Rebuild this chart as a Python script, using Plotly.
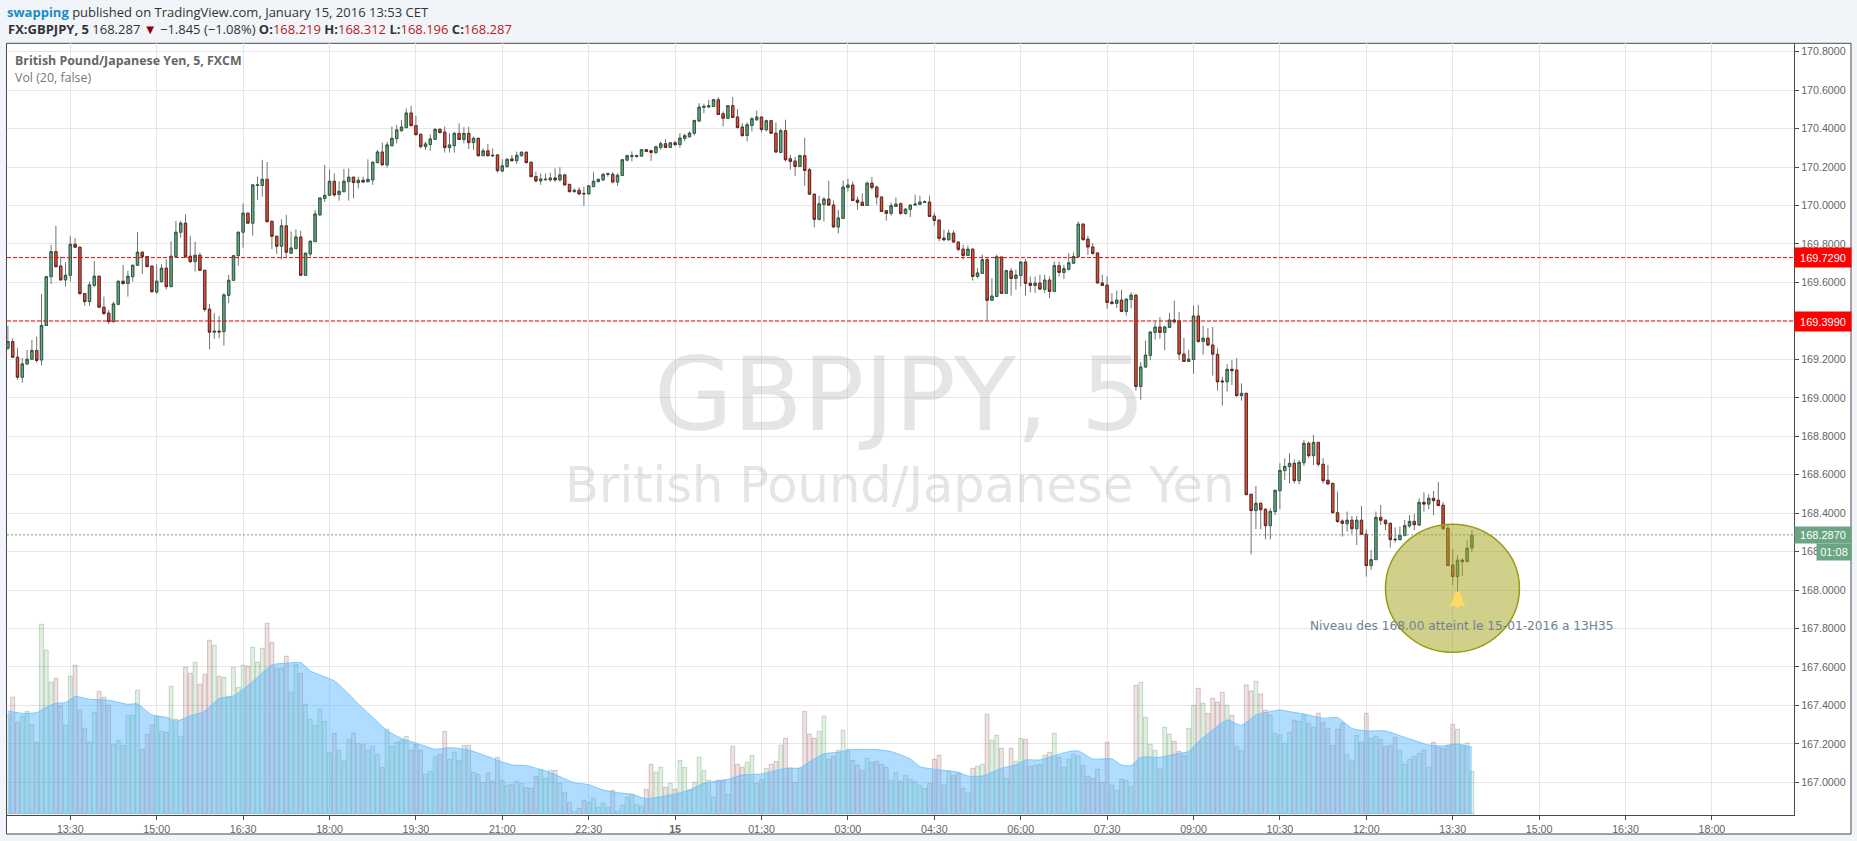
import pandas as pd
import plotly.graph_objects as go

W, H = 1857, 841
L, R, T, B = 7, 1794, 43, 815

open_ = [
169.258,169.292,169.211,169.107,169.176,169.200,169.246,169.197,169.376,169.630,169.760,169.685,169.613,169.637,169.798,169.783,169.542,169.500,169.585,169.632,
169.471,169.440,169.396,169.486,169.606,169.594,169.630,169.689,169.757,169.734,169.685,169.550,169.604,169.674,169.578,169.733,169.861,169.908,169.736,169.708,
169.741,169.663,169.461,169.341,169.346,169.344,169.533,169.611,169.739,169.861,169.960,169.908,170.104,170.104,170.136,169.918,169.840,169.788,169.894,169.752,
169.776,169.836,169.637,169.748,169.812,169.951,170.036,170.053,170.126,170.057,170.072,170.124,170.147,170.119,170.131,170.124,170.133,170.223,170.278,170.211,
170.311,170.348,170.389,170.405,170.481,170.415,170.370,170.306,170.317,170.344,170.396,170.382,170.301,170.311,170.375,170.343,170.375,170.327,170.349,170.259,
170.284,170.261,170.263,170.179,170.202,170.242,170.233,170.259,170.277,170.225,170.150,170.128,170.134,170.133,170.143,170.133,170.159,170.110,170.072,170.079,
170.063,170.060,170.098,170.124,170.133,170.162,170.162,170.122,170.156,170.236,170.255,170.255,170.257,170.290,170.285,170.276,170.302,170.321,170.302,170.326,
170.317,170.349,170.357,170.376,170.439,170.510,170.512,170.515,170.550,170.477,170.453,170.519,170.460,170.408,170.364,170.416,170.446,170.460,170.394,170.441,
170.376,170.276,170.389,170.243,170.231,170.203,170.259,170.186,170.059,169.928,170.005,170.033,170.002,169.888,169.933,170.094,170.106,170.028,170.017,170.000,
170.116,170.096,170.044,169.973,169.959,169.995,170.009,169.959,169.980,170.002,170.006,170.016,170.018,169.945,169.924,169.830,169.822,169.856,169.810,169.773,
169.740,169.773,169.631,169.647,169.718,169.507,169.527,169.732,169.543,169.659,169.621,169.636,169.706,169.596,169.584,169.596,169.564,169.612,169.553,169.687,
169.652,169.668,169.700,169.735,169.903,169.825,169.784,169.753,169.597,169.586,169.498,169.491,169.508,169.449,169.511,169.534,169.059,169.160,169.220,169.340,
169.368,169.340,169.366,169.404,169.399,169.227,169.189,169.199,169.425,169.293,169.310,169.274,169.226,169.087,169.083,169.148,169.144,169.011,169.023,168.498,
168.413,168.451,168.420,168.335,168.408,168.517,168.621,168.642,168.659,168.569,168.662,168.763,168.699,168.768,168.654,168.571,168.555,168.402,168.359,168.345,
168.363,168.319,168.363,168.290,168.127,168.158,168.378,168.363,168.347,168.264,168.262,168.283,168.333,168.357,168.338,168.456,168.447,168.477,168.467,168.441,
168.321,168.129,168.070,168.155,168.148,168.219]

high = [
169.374,169.310,169.258,169.206,169.249,169.301,169.318,169.540,169.632,169.795,169.894,169.734,169.705,169.842,169.831,169.785,169.545,169.604,169.712,169.634,
169.526,169.457,169.500,169.609,169.691,169.661,169.691,169.861,169.760,169.737,169.687,169.694,169.694,169.720,169.814,169.920,169.921,169.954,169.842,169.812,
169.755,169.665,169.488,169.440,169.426,169.544,169.639,169.743,169.863,170.011,169.962,170.110,170.150,170.237,170.226,169.920,169.842,169.928,169.951,169.864,
169.876,169.869,169.755,169.817,169.977,170.043,170.211,170.188,170.167,170.126,170.190,170.193,170.150,170.150,170.150,170.240,170.228,170.289,170.327,170.332,
170.410,170.419,170.445,170.505,170.518,170.466,170.375,170.332,170.370,170.401,170.401,170.410,170.375,170.384,170.427,170.407,170.410,170.358,170.355,170.297,
170.320,170.297,170.265,170.240,170.245,170.263,170.280,170.280,170.280,170.227,170.176,170.167,170.167,170.171,170.193,170.199,170.164,170.112,170.088,170.095,
170.098,170.105,170.173,170.141,170.167,170.171,170.174,170.167,170.240,170.264,170.281,170.264,170.293,170.292,170.290,170.311,170.333,170.345,170.330,170.336,
170.376,170.373,170.385,170.446,170.532,170.529,170.550,170.555,170.564,170.489,170.522,170.564,170.501,170.428,170.432,170.460,170.493,170.463,170.446,170.446,
170.432,170.399,170.446,170.264,170.252,170.264,170.352,170.196,170.061,170.051,170.044,170.129,170.026,169.978,170.129,170.139,170.125,170.047,170.064,170.125,
170.148,170.103,170.047,169.974,170.016,170.042,170.016,169.987,170.004,170.056,170.051,170.026,170.051,169.964,169.926,169.874,169.874,169.870,169.811,169.796,
169.792,169.775,169.675,169.744,169.727,169.622,169.744,169.733,169.666,169.675,169.666,169.709,169.723,169.631,169.631,169.640,169.640,169.631,169.709,169.709,
169.692,169.752,169.756,169.917,169.908,169.843,169.804,169.756,169.640,169.631,169.545,169.558,169.562,169.515,169.548,169.536,169.186,169.297,169.345,169.396,
169.420,169.375,169.441,169.505,169.446,169.311,169.250,169.479,169.484,169.375,169.363,169.368,169.257,169.109,169.175,169.196,169.206,169.075,169.025,168.500,
168.541,168.456,168.425,168.425,168.520,168.659,168.685,168.711,168.680,168.676,168.780,168.772,168.806,168.770,168.685,168.650,168.557,168.512,168.368,168.408,
168.385,168.385,168.437,168.316,168.208,168.408,168.442,168.368,168.350,168.326,168.330,168.364,168.390,168.395,168.477,168.508,168.499,168.515,168.562,168.458,
168.338,168.213,168.182,168.165,168.260,168.312]

low = [
169.249,169.206,169.093,169.079,169.171,169.197,169.183,169.168,169.374,169.592,169.677,169.608,169.578,169.604,169.778,169.535,169.479,169.478,169.575,169.466,
169.431,169.384,169.391,169.481,169.587,169.526,169.604,169.686,169.644,169.679,169.544,169.540,169.599,169.564,169.575,169.731,169.833,169.729,169.700,169.656,
169.661,169.448,169.252,169.306,169.310,169.271,169.492,169.608,169.687,169.781,169.904,169.843,170.029,170.046,169.911,169.774,169.748,169.720,169.726,169.748,
169.772,169.634,169.634,169.734,169.812,169.946,170.018,170.050,170.046,170.025,170.067,170.025,170.037,170.089,170.119,170.119,170.107,170.219,170.211,170.197,
170.306,170.323,170.384,170.401,170.413,170.367,170.297,170.289,170.285,170.341,170.375,170.275,170.275,170.275,170.341,170.323,170.294,170.289,170.254,170.257,
170.254,170.254,170.171,170.174,170.197,170.228,170.216,170.254,170.219,170.147,170.119,170.107,170.128,170.124,170.124,170.124,170.105,170.067,170.067,170.058,
169.998,170.057,170.095,170.121,170.129,170.150,170.115,170.102,170.154,170.229,170.229,170.248,170.252,170.278,170.232,170.266,170.290,170.298,170.298,170.312,
170.300,170.333,170.354,170.364,170.437,170.480,170.510,170.512,170.472,170.411,170.449,170.456,170.399,170.356,170.333,170.385,170.439,170.380,170.385,170.371,
170.274,170.272,170.229,170.186,170.154,170.200,170.103,170.056,169.886,169.922,169.917,169.999,169.886,169.855,169.929,170.073,170.025,169.978,169.999,169.999,
170.082,170.004,169.966,169.921,169.947,169.992,169.952,169.952,169.940,169.999,170.002,170.012,169.940,169.895,169.813,169.813,169.815,169.808,169.761,169.718,
169.739,169.609,169.621,169.643,169.404,169.503,169.524,169.541,169.541,169.531,169.562,169.579,169.531,169.548,169.545,169.562,169.545,169.517,169.550,169.631,
169.617,169.662,169.697,169.732,169.818,169.742,169.744,169.593,169.583,169.463,169.484,169.467,169.446,169.427,169.465,169.037,168.990,169.156,169.195,169.302,
169.307,169.247,169.363,169.385,169.195,169.186,169.186,169.125,169.285,169.224,169.271,169.115,169.037,168.959,169.032,169.066,169.005,168.985,168.494,168.186,
168.317,168.316,168.264,168.264,168.390,168.421,168.572,168.555,168.555,168.550,168.645,168.685,168.650,168.642,168.555,168.546,168.399,168.350,168.278,168.304,
168.291,168.234,168.286,168.070,168.104,168.156,168.338,168.312,168.220,168.246,168.260,168.281,168.324,168.312,168.333,168.408,168.420,168.390,168.437,168.316,
168.125,168.026,167.980,168.073,168.144,168.196]

close = [
169.292,169.211,169.107,169.176,169.200,169.246,169.194,169.376,169.630,169.760,169.682,169.613,169.637,169.798,169.783,169.542,169.500,169.587,169.632,169.471,
169.438,169.396,169.488,169.606,169.594,169.632,169.689,169.757,169.734,169.682,169.552,169.606,169.674,169.578,169.736,169.861,169.908,169.733,169.708,169.741,
169.663,169.459,169.341,169.346,169.343,169.535,169.611,169.739,169.861,169.960,169.908,170.107,170.107,170.136,169.916,169.840,169.788,169.894,169.757,169.779,
169.836,169.637,169.752,169.814,169.956,170.039,170.053,170.126,170.055,170.074,170.126,170.147,170.119,170.131,170.122,170.136,170.225,170.278,170.211,170.315,
170.349,170.393,170.408,170.481,170.415,170.368,170.306,170.320,170.346,170.396,170.379,170.301,170.315,170.375,170.343,170.375,170.327,170.349,170.259,170.284,
170.259,170.259,170.181,170.206,170.240,170.233,170.261,170.277,170.223,170.150,170.128,170.138,170.136,170.143,170.133,170.159,170.107,170.072,170.079,170.060,
170.061,170.102,170.126,170.136,170.162,170.165,170.122,170.157,170.238,170.259,170.259,170.259,170.290,170.281,170.276,170.305,170.321,170.302,170.326,170.316,
170.350,170.363,170.376,170.442,170.512,170.515,170.519,170.550,170.473,170.454,170.519,170.458,170.406,170.364,170.420,170.451,170.460,170.395,170.441,170.376,
170.278,170.389,170.238,170.229,170.203,170.259,170.182,170.059,169.928,170.009,170.033,170.002,169.888,169.935,170.096,170.106,170.026,170.016,170.000,170.116,
170.094,170.044,169.969,169.959,169.999,170.007,169.959,169.981,170.002,170.007,170.018,170.019,169.943,169.922,169.829,169.822,169.856,169.810,169.772,169.740,
169.773,169.631,169.649,169.718,169.507,169.529,169.733,169.543,169.661,169.621,169.638,169.706,169.595,169.584,169.596,169.565,169.612,169.553,169.687,169.652,
169.671,169.702,169.735,169.903,169.822,169.784,169.751,169.597,169.584,169.496,169.491,169.508,169.449,169.513,169.534,169.059,169.160,169.222,169.342,169.368,
169.340,169.368,169.404,169.395,169.227,169.189,169.201,169.425,169.293,169.310,169.274,169.227,169.083,169.083,169.148,169.141,169.011,169.023,168.496,168.413,
168.451,168.418,168.335,168.409,168.519,168.622,168.643,168.659,168.569,168.664,168.763,168.699,168.768,168.654,168.569,168.552,168.402,168.356,168.347,168.363,
168.319,168.363,168.290,168.127,168.158,168.378,168.363,168.345,168.262,168.262,168.286,168.335,168.357,168.340,168.456,168.447,168.477,168.465,168.439,168.319,
168.127,168.070,168.155,168.148,168.217,168.287]

volume = [
297,350,275,293,308,269,215,569,491,395,407,324,266,413,446,311,257,215,305,368,
350,326,209,221,206,296,296,371,194,239,266,293,248,245,383,284,233,440,422,455,
389,419,521,506,413,410,353,440,380,446,443,500,455,497,572,515,437,437,473,365,
449,422,329,284,266,314,278,185,242,191,161,224,242,212,209,191,203,179,140,254,
203,215,221,233,191,209,191,119,128,173,179,248,164,185,161,206,206,125,119,95,
122,98,170,101,86,89,98,92,80,77,113,134,107,131,131,92,65,35,8,17,
41,35,47,20,32,20,71,8,26,51,59,29,23,74,149,125,140,80,92,74,
161,140,72,95,170,131,101,50,101,101,59,203,149,140,155,176,92,104,137,149,
158,206,227,138,95,137,308,239,227,248,293,164,173,191,251,194,161,146,131,167,
155,158,149,140,101,125,98,116,104,98,86,77,92,164,176,86,128,116,122,77,
62,137,143,149,299,221,236,197,107,197,158,227,224,143,146,149,176,185,242,170,
140,164,179,173,146,113,107,134,95,215,86,71,104,101,83,386,395,290,209,191,
134,260,239,218,188,176,257,326,377,332,302,347,335,365,326,296,202,190,387,369,
398,360,311,297,242,237,212,245,281,278,297,272,260,302,275,257,206,254,272,179,
161,236,215,302,227,233,224,203,206,230,191,149,164,173,182,191,140,215,200,197,
206,269,254,206,212,128]

# Volume moving average, read at these bar numbers (1 = first bar on the chart)
ma_bars = [1,4,7,9,11,13,15,18,22,26,28,31,34,36,39,42,45,48,52,56,59,62,64,69,72,74,77,80,83,87,90,93,97,101,106,109,114,119,122,125,128,
131,134,140,143,146,151,154,158,163,166,168,171,174,177,182,185,189,191,194,199,201,204,208,211,213,216,219,222,224,227,231,233,235,237,241,245,247,249,252,255,258,
261,264,266,268,272,275,278,281,284,288,292,297,300,303,306]
ma_values = [309,302,304,320,332,334,352,344,341,329,330,297,290,278,295,308,346,354,397,447,452,454,429,399,360,330,290,250,227,208,194,199,192,172,147,145,124,94,88,72,64,
59,46,60,72,92,104,117,120,137,138,157,180,185,193,193,187,165,142,134,125,114,114,137,147,162,162,175,187,189,165,165,147,145,170,170,182,187,217,252,282,266,
297,307,312,307,297,287,289,257,249,249,230,207,204,210,200]

hlines = [169.729, 169.399]
last_price = 168.287
price_ticks = [170.8,170.6,170.4,170.2,170.0,169.8,169.6,169.4,169.2,169.0,168.8,168.6,168.4,168.2,168.0,167.8,167.6,167.4,167.2,167.0]
time_tickvals = ["2016-01-14 13:30","2016-01-14 15:00","2016-01-14 16:30","2016-01-14 18:00","2016-01-14 19:30","2016-01-14 21:00","2016-01-14 22:30",
                 "2016-01-15 00:00","2016-01-15 01:30","2016-01-15 03:00","2016-01-15 04:30","2016-01-15 06:00","2016-01-15 07:30","2016-01-15 09:00",
                 "2016-01-15 10:30","2016-01-15 12:00","2016-01-15 13:30","2016-01-15 15:00","2016-01-15 16:30","2016-01-15 18:00"]
time_ticktext = ["13:30","15:00","16:30","18:00","19:30","21:00","22:30","<b>15</b>","01:30","03:00","04:30","06:00","07:30","09:00","10:30","12:00","13:30","15:00","16:30","18:00"]

times = pd.date_range("2016-01-14 12:25", periods=len(close), freq="5min")
time_str = [t.strftime("%Y-%m-%d %H:%M:%S") for t in times]
ma_times = [time_str[b - 1] for b in ma_bars]

UP, DOWN, UP_B, DOWN_B, WICK = "#6BA583", "#D75442", "#225437", "#5B1A13", "#737375"
GRID, FRAME, PAGE = "#E6E6E6", "#4A4A4A", "#F1F4F8"
vol_fill = ["rgba(85,165,85,0.17)" if c >= o else "rgba(150,70,70,0.15)" for o, c in zip(open_, close)]
vol_line = ["rgba(60,130,70,0.27)" if c >= o else "rgba(120,50,50,0.25)" for o, c in zip(open_, close)]

def px_x(p): return (p - L) / (R - L)
def px_y(p): return (B - p) / (B - T)

fig = go.Figure()

# watermark, beneath everything
fig.add_trace(go.Scatter(x=["2016-01-15 03:54"], y=[1228], mode="text", text=["GBPJPY, 5"], yaxis="y", xaxis="x",
                         textfont=dict(family="DejaVu Sans", size=102, color="rgba(170,170,170,0.30)"),
                         textposition="middle center", hoverinfo="skip", showlegend=False))
fig.add_trace(go.Scatter(x=["2016-01-15 03:54"], y=[972], mode="text", text=["British Pound/Japanese Yen"], yaxis="y", xaxis="x",
                         textfont=dict(family="DejaVu Sans", size=49.5, color="rgba(170,170,170,0.30)"),
                         textposition="middle center", hoverinfo="skip", showlegend=False))

fig.add_trace(go.Bar(x=time_str, y=volume, yaxis="y", xaxis="x", width=240000,
                     marker=dict(color=vol_fill, line=dict(color=vol_line, width=1)),
                     hoverinfo="skip", showlegend=False))
fig.add_trace(go.Scatter(x=ma_times, y=ma_values, yaxis="y", xaxis="x", mode="lines", fill="tozeroy",
                         fillcolor="rgba(80,180,255,0.45)", line=dict(color="rgba(110,195,255,0.9)", width=1, shape="spline", smoothing=0.6),
                         hoverinfo="skip", showlegend=False))

# wicks, then bodies
fig.add_trace(go.Candlestick(x=time_str, open=open_, high=high, low=low, close=close, yaxis="y2", xaxis="x",
                             increasing=dict(line=dict(color=WICK, width=1), fillcolor=WICK),
                             decreasing=dict(line=dict(color=WICK, width=1), fillcolor=WICK),
                             hoverinfo="skip", showlegend=False))
fig.add_trace(go.Candlestick(x=time_str, open=open_, close=close,
                             high=[max(o, c) for o, c in zip(open_, close)],
                             low=[min(o, c) for o, c in zip(open_, close)], yaxis="y2", xaxis="x",
                             increasing=dict(line=dict(color=UP_B, width=0.8), fillcolor=UP),
                             decreasing=dict(line=dict(color=DOWN_B, width=0.8), fillcolor=DOWN),
                             hoverinfo="skip", showlegend=False))

shapes = [
    dict(type="rect", xref="paper", yref="paper", x0=px_x(6.5), x1=px_x(1851), y0=px_y(834), y1=px_y(43.3),
         fillcolor="white", line=dict(color=FRAME, width=1), layer="below"),
]
for level in hlines:
    shapes.append(dict(type="line", xref="paper", yref="y2", x0=0, x1=1, y0=level, y1=level,
                       line=dict(color="#FF0000", width=1, dash="4px,2px"), layer="above"))
shapes.append(dict(type="line", xref="paper", yref="y2", x0=0, x1=1, y0=last_price, y1=last_price,
                   line=dict(color=UP, width=1, dash="2px,2px"), layer="above"))
shapes.append(dict(type="circle", xref="x", yref="y2", x0="2016-01-15 12:20", x1="2016-01-15 14:39:30", y0=167.676, y1=168.342,
                   fillcolor="rgba(165,165,30,0.52)", line=dict(color="#9A9A10", width=1.5), layer="above"))
shapes.append(dict(type="path", xref="x", yref="y2", xsizemode="pixel", ysizemode="pixel",
                   xanchor="2016-01-15 13:35", yanchor=167.948,
                   path="M -8.5,-6 L 8.5,-6 C 5.5,-3 4.5,0 4,4 C 3.5,7 1.5,8.5 0,8.5 C -1.5,8.5 -3.5,7 -4,4 C -4.5,0 -5.5,-3 -8.5,-6 Z M -2.5,-6 L 2.5,-6 L 0,-8.5 Z",
                   fillcolor="#FFD966", line=dict(color="#FFD966", width=0), layer="above"))

BLK = "#333333"
DRED = "#B71C1C"
anns = [
    dict(xref="paper", yref="paper", x=px_x(5), y=px_y(12), xanchor="left", yanchor="middle", showarrow=False,
         font=dict(family="Open Sans", size=13, color=BLK),
         text="<span style='color:#1A8CC8'><b>swapping</b></span> published on TradingView.com, January 15, 2016 13:53 CET"),
    dict(xref="paper", yref="paper", x=px_x(6), y=px_y(29.5), xanchor="left", yanchor="middle", showarrow=False,
         font=dict(family="Open Sans", size=13, color=BLK),
         text=f"<b>FX:GBPJPY, 5</b> 168.287 <span style='color:#8B0000'>▼</span> −1.845 (−1.08%) <b>O:</b><span style='color:{DRED}'>168.219</span> "
              f"<b>H:</b><span style='color:{DRED}'>168.312</span> <b>L:</b><span style='color:{DRED}'>168.196</span> <b>C:</b><span style='color:{DRED}'>168.287</span>"),
    dict(xref="paper", yref="paper", x=px_x(12.5), y=px_y(60.5), xanchor="left", yanchor="middle", showarrow=False,
         font=dict(family="Open Sans", size=12.4, color="#666666"), text="<b>British Pound/Japanese Yen, 5, FXCM</b>"),
    dict(xref="paper", yref="paper", x=px_x(12.5), y=px_y(77.5), xanchor="left", yanchor="middle", showarrow=False,
         font=dict(family="Open Sans", size=12.4, color="#777777"), text="Vol (20, false)"),
    dict(xref="x", yref="y2", x="2016-01-15 13:39:30", y=167.814, xanchor="center", yanchor="middle", showarrow=False,
         font=dict(family="DejaVu Sans", size=12.2, color="#6E8296"), text="Niveau des 168.00 atteint le 15-01-2016 a 13H35"),
]
for level in hlines:
    anns.append(dict(xref="paper", yref="y2", x=1, y=level, xanchor="left", yanchor="middle", showarrow=False,
                     width=56, height=19, align="center", valign="middle", bgcolor="#FF0000", borderpad=0,
                     font=dict(family="Liberation Sans", size=11, color="white"), text=f"{level:.4f}"))
anns.append(dict(xref="paper", yref="y2", x=1, y=last_price, xanchor="left", yanchor="middle", showarrow=False,
                 width=56, height=16, align="center", valign="middle", bgcolor=UP, borderpad=0,
                 font=dict(family="Liberation Sans", size=11, color="white"), text=f"{last_price:.4f}"))
anns.append(dict(xref="paper", yref="paper", x=px_x(1816), y=px_y(551.5), xanchor="left", yanchor="middle", showarrow=False,
                 width=34, height=16, align="center", valign="middle", bgcolor=UP, borderpad=0,
                 font=dict(family="Liberation Sans", size=11, color="white"), text="01:08"))

axis_font = dict(family="Liberation Sans", size=10.7, color="#666666")
fig.update_layout(
    width=W, height=H, autosize=False,
    margin=dict(l=L, r=W - R, t=T, b=H - B, pad=0),
    paper_bgcolor=PAGE, plot_bgcolor="white", showlegend=False, barmode="overlay", dragmode=False,
    xaxis=dict(type="date", range=["2016-01-14 12:24:04", "2016-01-15 19:25:30"], tickmode="array", tickvals=time_tickvals, ticktext=time_ticktext,
               tickangle=0, showgrid=True, gridcolor=GRID, gridwidth=1, showline=True, linecolor=FRAME, linewidth=1,
               ticks="outside", ticklen=4, tickcolor=FRAME, tickfont=axis_font, rangeslider=dict(visible=False), zeroline=False, automargin=False),
    yaxis=dict(range=[-3, 2312], visible=False, showgrid=False, zeroline=False, fixedrange=True),
    yaxis2=dict(overlaying="y", side="right", anchor="x", range=[166.83, 170.845], tickmode="array", tickvals=price_ticks,
                tickformat=".4f", showgrid=True, gridcolor=GRID, gridwidth=1, showline=True, linecolor=FRAME, linewidth=1,
                ticks="outside", ticklen=4, tickcolor=FRAME, tickfont=axis_font, zeroline=False, automargin=False),
    shapes=shapes, annotations=anns,
)

fig.write_html("out.html", config={"displayModeBar": False},
               post_script="document.body.style.margin='0';document.body.style.overflow='hidden';")
